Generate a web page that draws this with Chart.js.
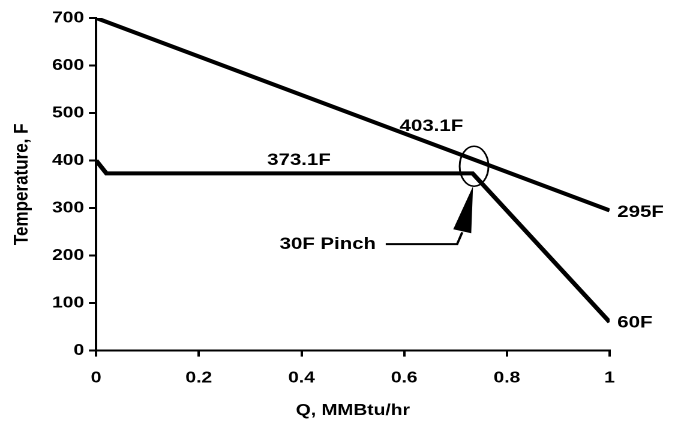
<!DOCTYPE html>
<html>
<head>
<meta charset="utf-8">
<script src="https://cdn.jsdelivr.net/npm/chart.js@4"></script>
<style>
    body { margin: 0; background: #fff; overflow: hidden; }
    /* the reference looks stretched sideways, so draw narrower and widen */
    #wrap { width: 563px; height: 422px; transform: scaleX(1.2); transform-origin: 0 0; }
</style>
</head>
<body>
<div id="wrap"><canvas id="myChart"></canvas></div>
<script>
// hot stream and cold stream composite curves
var hotQ = [0, 1];
var hotT = [700, 295];
var coldQ = [0, 0.02, 0.733, 1];
var coldT = [400, 373.1, 373.1, 60];
var xTicks = [0, 0.2, 0.4, 0.6, 0.8, 1];
var yTicks = [0, 100, 200, 300, 400, 500, 600, 700];

// text notes: [text, q, T, align]
var notes = [
    ['373.1F', 0.395, 400, 'center'],
    ['403.1F', 0.653, 472, 'center'],
    ['295F', 1.015, 291, 'left'],
    ['60F', 1.015, 59, 'left'],
    ['30F Pinch', 0.545, 224, 'right']
];
// pinch circle and arrow (data coords)
var pinchQ = 0.736, pinchT = 388;
var arrowQ = [0.734, 0.713, 0.703, 0.564];
var arrowT = [346, 249, 224, 224];

var fontFam = '"Liberation Sans", Arial, sans-serif';

function toXY(arr1, arr2) {
    return arr1.map(function (q, i) { return { x: q, y: arr2[i] }; });
}

var notesPlugin = {
    id: 'notes',
    afterDatasetsDraw: function (chart) {
        var ctx = chart.ctx;
        var sx = chart.scales.x, sy = chart.scales.y;
        ctx.save();
        ctx.fillStyle = '#000';
        ctx.font = 'bold 17px ' + fontFam;
        ctx.textBaseline = 'middle';
        notes.forEach(function (n) {
            ctx.textAlign = n[3];
            ctx.fillText(n[0], sx.getPixelForValue(n[1]), sy.getPixelForValue(n[2]));
        });
        // ellipse at pinch
        ctx.strokeStyle = '#000';
        ctx.lineWidth = 1.5;
        ctx.beginPath();
        ctx.ellipse(sx.getPixelForValue(pinchQ), sy.getPixelForValue(pinchT), 12, 20, 0, 0, Math.PI * 2);
        ctx.stroke();
        // arrow leader line
        var p = arrowQ.map(function (q, i) {
            return [sx.getPixelForValue(q), sy.getPixelForValue(arrowT[i])];
        });
        ctx.lineWidth = 2;
        ctx.beginPath();
        ctx.moveTo(p[1][0], p[1][1]);
        ctx.lineTo(p[2][0], p[2][1]);
        ctx.lineTo(p[3][0], p[3][1]);
        ctx.stroke();
        // arrow head
        ctx.beginPath();
        ctx.moveTo(p[0][0], p[0][1]);
        ctx.lineTo(p[1][0] - 7.5, p[1][1] - 3);
        ctx.lineTo(p[1][0] + 7.5, p[1][1] + 1);
        ctx.closePath();
        ctx.fill();
        ctx.restore();
    }
};

var ctx = document.getElementById('myChart').getContext('2d');
var myChart = new Chart(ctx, {
    type: 'scatter',
    data: {
        datasets: [{
            label: 'Hot',
            data: toXY(hotQ, hotT),
            showLine: true,
            borderColor: '#000',
            borderWidth: 4,
            pointRadius: 0
        }, {
            label: 'Cold',
            data: toXY(coldQ, coldT),
            showLine: true,
            borderColor: '#000',
            borderWidth: 4,
            pointRadius: 0
        }]
    },
    options: {
        responsive: true,
        maintainAspectRatio: false,
        animation: false,
        devicePixelRatio: 2,
        layout: { padding: { top: 18, right: 55, left: 8, bottom: 2 } },
        plugins: { legend: { display: false }, tooltip: { enabled: false } },
        scales: {
            x: {
                type: 'linear',
                min: 0, max: 1,
                afterBuildTicks: function (axis) {
                    axis.ticks = xTicks.map(function (v) { return { value: v }; });
                },
                grid: { drawOnChartArea: false, color: '#000', lineWidth: 2, tickLength: 6 },
                border: { color: '#000', width: 2 },
                ticks: {
                    color: '#000',
                    font: { family: fontFam, size: 16, weight: 'bold' },
                    padding: 12,
                    maxRotation: 0,
                    callback: function (v) { return String(v); }
                },
                title: {
                    display: true,
                    text: 'Q, MMBtu/hr',
                    color: '#000',
                    font: { family: fontFam, size: 16, weight: 'bold' },
                    padding: { top: 1, bottom: 0 }
                }
            },
            y: {
                min: 0, max: 700,
                afterBuildTicks: function (axis) {
                    axis.ticks = yTicks.map(function (v) { return { value: v }; });
                },
                grid: { drawOnChartArea: false, color: '#000', lineWidth: 2, tickLength: 6 },
                border: { color: '#000', width: 2 },
                ticks: {
                    color: '#000',
                    font: { family: fontFam, size: 16, weight: 'bold' },
                    padding: 4
                },
                title: {
                    display: true,
                    text: 'Temperature, F',
                    color: '#000',
                    font: { family: fontFam, size: 17, weight: 'bold' },
                    padding: { top: 0, bottom: 11 }
                }
            }
        }
    },
    plugins: [notesPlugin]
});
</script>
</body>
</html>
